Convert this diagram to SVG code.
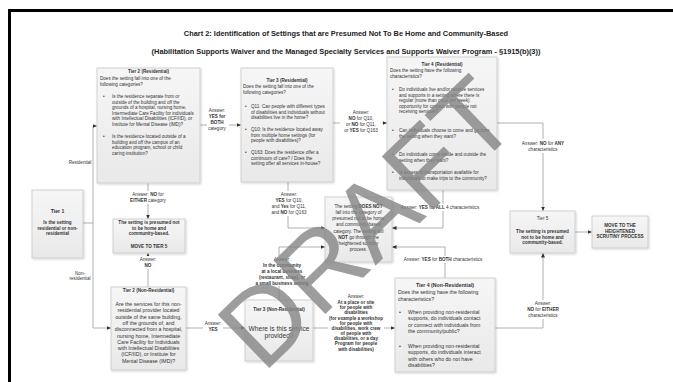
<svg xmlns="http://www.w3.org/2000/svg" width="673" height="382" viewBox="0 0 673 382">
<style>
.box{fill:url(#bg);stroke:#c8c8c8;stroke-width:0.8;filter:url(#sh)}
.t{font-family:"Liberation Sans",Arial,sans-serif;font-size:4.6px;fill:#333}
.c{text-anchor:middle}
.b{font-weight:bold}
.m{font-size:5.2px}
.ln{fill:none;stroke:#9c9c9c;stroke-width:0.8}
.lb{fill:#fff}
.ttl{font-family:"Liberation Sans",Arial,sans-serif;font-size:7.4px;font-weight:bold;fill:#222;text-anchor:middle}
</style>
<defs>
<linearGradient id="bg" x1="0" y1="0" x2="0" y2="1"><stop offset="0" stop-color="#f6f6f6"/><stop offset="1" stop-color="#e9e9e9"/></linearGradient>
<filter id="sh" x="-10%" y="-10%" width="130%" height="130%"><feDropShadow dx="1" dy="1" stdDeviation="0.8" flood-color="#000" flood-opacity="0.18"/></filter>
<marker id="ar" markerUnits="userSpaceOnUse" markerWidth="5" markerHeight="4" refX="4.5" refY="2" orient="auto"><path d="M0,0 L4.5,2 L0,4 z" fill="#333"/></marker>
</defs>
<rect width="673" height="382" fill="#fff"/>
<rect x="9.5" y="10.5" width="680" height="390" fill="none" stroke="#000" stroke-width="3"/>
<text class="ttl" x="346" y="36">Chart 2: Identification of Settings that are Presumed Not To Be Home and Community-Based</text>
<text class="ttl" x="346" y="54">(Habilitation Supports Waiver and the Managed Specialty Services and Supports Waiver Program - §1915(b)(3))</text>

<g id="connectors">
<path class="ln" d="M83,223 H93 M93,126 V328"/>
<path class="ln" d="M93,126 H97" marker-end="url(#ar)"/>
<path class="ln" d="M93,328 H111" marker-end="url(#ar)"/>
<path class="ln" d="M200,125 H241" marker-end="url(#ar)"/>
<path class="ln" d="M333,123 H387" marker-end="url(#ar)"/>
<path class="ln" d="M497,123 H543 V211" marker-end="url(#ar)"/>
<path class="ln" d="M148,183 V219" marker-end="url(#ar)"/>
<path class="ln" d="M148,287 V253" marker-end="url(#ar)"/>
<path class="ln" d="M186,328 H245" marker-end="url(#ar)"/>
<path class="ln" d="M313,328 H395" marker-end="url(#ar)"/>
<path class="ln" d="M495,328 H543 V253" marker-end="url(#ar)"/>
<path class="ln" d="M575,232 H592" marker-end="url(#ar)"/>
<path class="ln" d="M288,182 V228 H325" marker-end="url(#ar)"/>
<path class="ln" d="M279,300 V247 H325" marker-end="url(#ar)"/>
<path class="ln" d="M443,190 V228 H392" marker-end="url(#ar)"/>
<path class="ln" d="M445,278 V247 H392" marker-end="url(#ar)"/>
</g>

<g id="labels">
<text class="t c" x="80" y="164">Residential</text>
<text class="t c" x="80" y="275">Non-</text>
<text class="t c" x="80" y="280">residential</text>

<rect class="lb" x="207" y="107" width="22" height="25"/>
<text class="t c" x="217" y="112">Answer:</text>
<text class="t c b" x="217" y="118">YES for</text>
<text class="t c b" x="217" y="124">BOTH</text>
<text class="t c" x="217" y="130">category</text>

<rect class="lb" x="340" y="109" width="42" height="25"/>
<text class="t c" x="361" y="114">Answer:</text>
<text class="t c" x="361" y="120"><tspan class="b">NO</tspan> for Q10,</text>
<text class="t c" x="361" y="126">or <tspan class="b">NO</tspan> for Q11,</text>
<text class="t c" x="361" y="132">or <tspan class="b">YES</tspan> for Q163</text>

<rect class="lb" x="518" y="139" width="50" height="14"/>
<text class="t c" x="543" y="145">Answer: <tspan class="b">NO</tspan> for <tspan class="b">ANY</tspan></text>
<text class="t c" x="543" y="151">characteristics</text>

<rect class="lb" x="125" y="191" width="46" height="13"/>
<text class="t c" x="148" y="196">Answer: <tspan class="b">NO</tspan> for</text>
<text class="t c" x="148" y="202"><tspan class="b">EITHER</tspan> category</text>

<rect class="lb" x="138" y="256" width="20" height="13"/>
<text class="t c" x="148" y="261">Answer:</text>
<text class="t c b" x="148" y="267">NO</text>

<rect class="lb" x="203" y="320" width="20" height="12"/>
<text class="t c" x="213" y="325">Answer:</text>
<text class="t c b" x="213" y="331">YES</text>

<rect class="lb" x="266" y="191" width="46" height="25"/>
<text class="t c" x="289" y="196">Answer:</text>
<text class="t c" x="289" y="202"><tspan class="b">YES</tspan> for Q10,</text>
<text class="t c" x="289" y="208">and <tspan class="b">Yes</tspan> for Q11,</text>
<text class="t c" x="289" y="214">and <tspan class="b">NO</tspan> for Q163</text>

<rect class="lb" x="256" y="256" width="52" height="30"/>
<text class="t c" x="282" y="261">Answer:</text>
<text class="t c b" x="282" y="267">In the community</text>
<text class="t c b" x="282" y="273">at a local business</text>
<text class="t c b" x="282" y="279">(restaurant, shop), or</text>
<text class="t c b" x="282" y="285">a small business setting</text>

<rect class="lb" x="393" y="204" width="96" height="7"/>
<text class="t c" x="440" y="209">Answer: <tspan class="b">YES</tspan> for <tspan class="b">ALL</tspan> 4 characteristics</text>

<rect class="lb" x="396" y="256" width="94" height="7"/>
<text class="t c" x="443" y="261">Answer: <tspan class="b">YES</tspan> for <tspan class="b">BOTH</tspan> characteristics</text>

<rect class="lb" x="328" y="293" width="56" height="60"/>
<text class="t c" x="356" y="298">Answer:</text>
<text class="t c b" x="356" y="304">At a place or site</text>
<text class="t c b" x="356" y="309">for people with</text>
<text class="t c b" x="356" y="314">disabilities</text>
<text class="t c b" x="356" y="320">(for example a workshop</text>
<text class="t c b" x="356" y="325">for people with</text>
<text class="t c b" x="356" y="330">disabilities, work crew</text>
<text class="t c b" x="356" y="335">of people with</text>
<text class="t c b" x="356" y="340">disabilities, or a day</text>
<text class="t c b" x="356" y="345">Program for people</text>
<text class="t c b" x="356" y="351">with disabilities)</text>

<rect class="lb" x="521" y="300" width="44" height="19"/>
<text class="t c" x="543" y="305">Answer:</text>
<text class="t c" x="543" y="311"><tspan class="b">NO</tspan> for <tspan class="b">EITHER</tspan></text>
<text class="t c" x="543" y="317">characteristics</text>
</g>

<g id="tier1">
<rect class="box" x="32" y="190" width="51" height="68"/>
<text class="t c b m" x="57.5" y="213">Tier 1</text>
<text class="t c b" x="57.5" y="224">Is the setting</text>
<text class="t c b" x="57.5" y="229.5">residential or non-</text>
<text class="t c b" x="57.5" y="235">residential</text>
</g>

<g id="tier2res">
<rect class="box" x="97" y="68" width="103" height="115"/>
<text class="t c b" x="148.5" y="73">Tier 2 (Residential)</text>
<text class="t" x="100" y="79.5">Does the setting fall into one of the</text>
<text class="t" x="100" y="85.5">following categories?</text>
<text class="t" x="103" y="98">•</text>
<text class="t" x="112" y="98">Is the residence separate from or</text>
<text class="t" x="112" y="103.6">outside of the building and off the</text>
<text class="t" x="112" y="109.2">grounds of a hospital, nursing home,</text>
<text class="t" x="112" y="114.8">Intermediate Care Facility for individuals</text>
<text class="t" x="112" y="120.4">with Intellectual Disabilities (ICF/IID), or</text>
<text class="t" x="112" y="126">Institute for Mental Disease (IMD)?</text>
<text class="t" x="103" y="138">•</text>
<text class="t" x="112" y="138">Is the residence located outside of a</text>
<text class="t" x="112" y="143.6">building and off the campus of an</text>
<text class="t" x="112" y="149.2">education program, school or child</text>
<text class="t" x="112" y="154.8">caring institution?</text>
</g>

<g id="tier3res">
<rect class="box" x="241" y="68" width="92" height="114"/>
<text class="t c b" x="287" y="82">Tier 3 (Residential)</text>
<text class="t" x="243" y="88">Does the setting fall into one of the</text>
<text class="t" x="243" y="94">following categories?</text>
<text class="t" x="245" y="108">•</text>
<text class="t" x="251" y="108">Q11: Can people with different types</text>
<text class="t" x="251" y="113.6">of disabilities and individuals without</text>
<text class="t" x="251" y="119.2">disabilities live in the home?</text>
<text class="t" x="245" y="131">•</text>
<text class="t" x="251" y="131">Q10: Is the residence located away</text>
<text class="t" x="251" y="136.6">from multiple home settings (for</text>
<text class="t" x="251" y="142.2">people with disabilities)?</text>
<text class="t" x="245" y="154">•</text>
<text class="t" x="251" y="154">Q163: Does the residence offer a</text>
<text class="t" x="251" y="159.6">continuum of care? / Does the</text>
<text class="t" x="251" y="165.2">setting offer all services in-house?</text>
</g>

<g id="tier4res">
<rect class="box" x="387" y="57" width="110" height="133"/>
<text class="t c b" x="442" y="66">Tier 4 (Residential)</text>
<text class="t" x="390" y="72">Does the setting have the following</text>
<text class="t" x="390" y="78">characteristics?</text>
<text class="t" x="392" y="91">•</text>
<text class="t" x="399" y="91">Do individuals live and/or receive services</text>
<text class="t" x="399" y="96.5">and supports in a setting where there is</text>
<text class="t" x="399" y="102">regular (more than once per week)</text>
<text class="t" x="399" y="107.5">opportunity for contact with people not</text>
<text class="t" x="399" y="113">receiving services?</text>
<text class="t" x="392" y="132">•</text>
<text class="t" x="399" y="132">Can individuals choose to come and go from</text>
<text class="t" x="399" y="137.5">the setting when they want?</text>
<text class="t" x="392" y="156">•</text>
<text class="t" x="399" y="156">Do individuals come inside and outside the</text>
<text class="t" x="399" y="161.5">setting when they want?</text>
<text class="t" x="392" y="174">•</text>
<text class="t" x="399" y="174">Is access to transportation available for</text>
<text class="t" x="399" y="179.5">individuals to make trips to the community?</text>
</g>

<g id="presumed">
<rect class="box" x="113" y="219" width="72" height="34"/>
<text class="t c b" x="149" y="224">The setting is presumed not</text>
<text class="t c b" x="149" y="229.5">to be home and</text>
<text class="t c b" x="149" y="235">community-based.</text>
<text class="t c b" x="149" y="248">MOVE TO TIER 5</text>
</g>

<g id="center">
<rect class="box" x="325" y="197" width="67" height="65"/>
<text class="t c" x="358.5" y="208">The setting <tspan class="b">DOES NOT</tspan></text>
<text class="t c" x="358.5" y="214">fall into the category of</text>
<text class="t c" x="358.5" y="220">presumed not to be home</text>
<text class="t c" x="358.5" y="226">and community-based</text>
<text class="t c" x="358.5" y="233">category. The setting will</text>
<text class="t c" x="358.5" y="239"><tspan class="b">NOT</tspan> go through the</text>
<text class="t c" x="358.5" y="245">heightened scrutiny</text>
<text class="t c" x="358.5" y="251">process.</text>
</g>

<g id="tier2nonres">
<rect class="box" x="111" y="287" width="75" height="83"/>
<text class="t c b" x="148.5" y="292">Tier 2 (Non-Residential)</text>
<text class="t c m" x="148.5" y="306">Are the services for this non-</text>
<text class="t c m" x="148.5" y="312.3">residential provider located</text>
<text class="t c m" x="148.5" y="318.6">outside of the same building,</text>
<text class="t c m" x="148.5" y="324.9">off the grounds of, and</text>
<text class="t c m" x="148.5" y="331.2">disconnected from a hospital,</text>
<text class="t c m" x="148.5" y="337.5">nursing home, Intermediate</text>
<text class="t c m" x="148.5" y="343.8">Care Facility for Individuals</text>
<text class="t c m" x="148.5" y="350.1">with Intellectual Disabilities</text>
<text class="t c m" x="148.5" y="356.4">(ICF/IID), or Institute for</text>
<text class="t c m" x="148.5" y="362.7">Mental Disease (IMD)?</text>
</g>

<g id="tier3nonres">
<rect class="box" x="245" y="300" width="68" height="61"/>
<text class="t c b" x="279" y="311">Tier 3 (Non-Residential)</text>
<text class="t c" x="279" y="331" style="font-size:6.6px">Where is this service</text>
<text class="t c" x="279" y="338" style="font-size:6.6px">provided?</text>
</g>

<g id="tier4nonres">
<rect class="box" x="395" y="278" width="100" height="94"/>
<text class="t c b m" x="445" y="287">Tier 4 (Non-Residential)</text>
<text class="t m" x="398" y="294">Does the setting have the following</text>
<text class="t m" x="398" y="301">characteristics?</text>
<text class="t m" x="399" y="314">•</text>
<text class="t m" x="408" y="314">When providing non-residential</text>
<text class="t m" x="408" y="320.3">supports, do individuals contact</text>
<text class="t m" x="408" y="326.6">or connect with individuals from</text>
<text class="t m" x="408" y="332.9">the community/public?</text>
<text class="t m" x="399" y="348">•</text>
<text class="t m" x="408" y="348">When providing non-residential</text>
<text class="t m" x="408" y="354.3">supports, do individuals interact</text>
<text class="t m" x="408" y="360.6">with others who do not have</text>
<text class="t m" x="408" y="366.9">disabilities?</text>
</g>

<g id="tier5">
<rect class="box" x="510" y="211" width="65" height="42"/>
<text class="t c" x="542.5" y="220">Tier 5</text>
<text class="t c b" x="542.5" y="233">The setting is presumed</text>
<text class="t c b" x="542.5" y="238.5">not to be home and</text>
<text class="t c b" x="542.5" y="244">community-based.</text>
</g>

<g id="move">
<rect class="box" x="592" y="216" width="56" height="32"/>
<text class="t c b" x="620" y="227">MOVE TO THE</text>
<text class="t c b" x="620" y="232.5">HEIGHTENED</text>
<text class="t c b" x="620" y="238">SCRUTINY PROCESS</text>
</g>

<text x="0" y="38" transform="translate(366,222) rotate(-44)" text-anchor="middle" style="font-family:'Liberation Sans',Arial,sans-serif;font-size:108px;fill:#858585;opacity:0.8">DRAFT</text>
</svg>
